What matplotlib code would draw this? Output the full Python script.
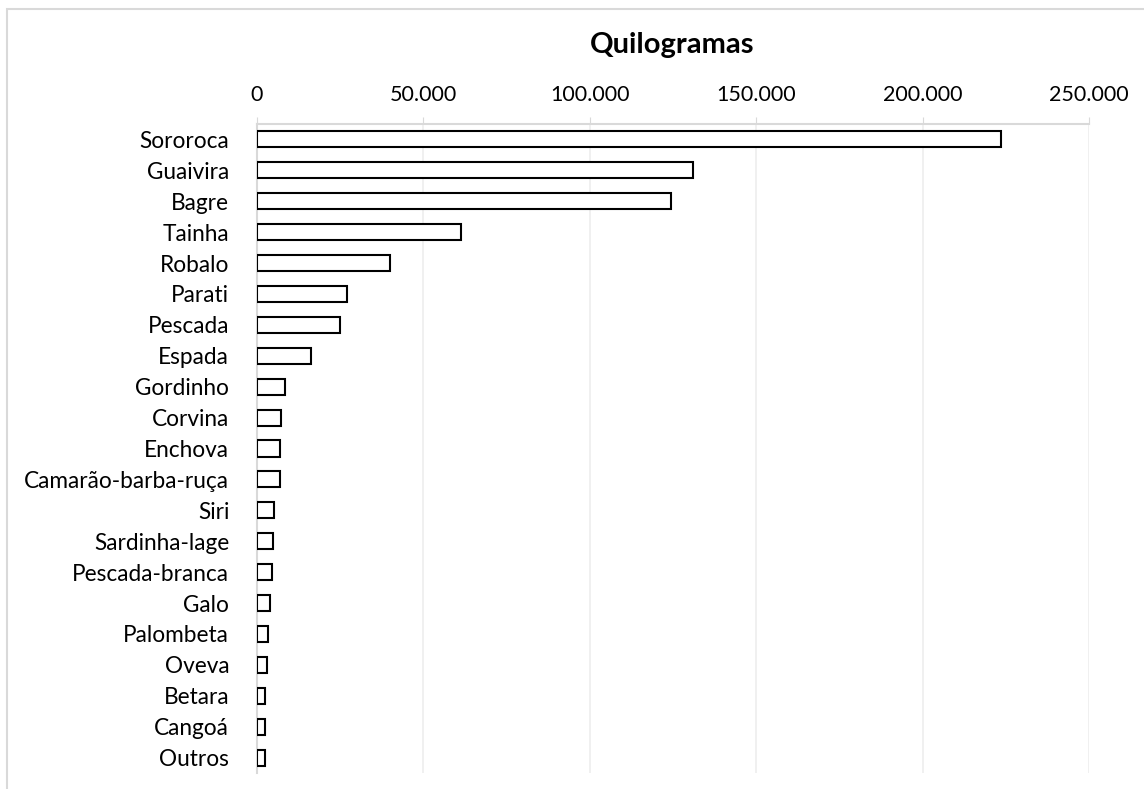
import matplotlib
matplotlib.use("Agg")
import matplotlib.pyplot as plt
from matplotlib.patches import Rectangle
from matplotlib.ticker import FuncFormatter

species = ["Sororoca", "Guaivira", "Bagre", "Tainha", "Robalo", "Parati",
           "Pescada", "Espada", "Gordinho", "Corvina", "Enchova",
           "Camarão-barba-ruça", "Siri", "Sardinha-lage", "Pescada-branca",
           "Galo", "Palombeta", "Oveva", "Betara", "Cangoá", "Outros"]
kg = [223500, 131000, 124300, 61200, 39900, 27000, 24900, 16100, 8500,
      7100, 6800, 6800, 5000, 4700, 4400, 3800, 3200, 3100, 2300, 2300, 2500]
ticks = [0, 50000, 100000, 150000, 200000, 250000]

W, H = 1144, 789
fig = plt.figure(figsize=(W / 100, H / 100), dpi=100)
plt.rcParams['font.family'] = ['Lato', 'DejaVu Sans']

# outer frame of the chart (cut off on the right and bottom)
fig.patches.append(Rectangle((7 / W, -0.1), 1.2, 1 - 9 / H + 0.1,
                             transform=fig.transFigure, fill=False,
                             edgecolor="#d9d9d9", lw=1.5))

ax = fig.add_axes([257 / W, 1 - 773 / H, (1089 - 257) / W, (773 - 124) / H])
ypos = list(range(len(species)))
ax.barh(ypos, kg, height=0.52, color="white", edgecolor="black", lw=1.5, zorder=3)

ax.set_xlim(0, 250000)
ax.set_ylim(len(species) - 0.5, -0.5)
ax.set_yticks(ypos)
ax.set_yticklabels(species, fontsize=16.3)
ax.set_xticks(ticks)
ax.xaxis.set_major_formatter(FuncFormatter(lambda v, p: f"{int(v):,}".replace(",", ".")))
ax.xaxis.tick_top()
ax.tick_params(axis="x", labelsize=15.5, length=5, color="#d9d9d9", pad=9, direction="out")
ax.tick_params(axis="y", length=0, pad=20)
ax.grid(axis="x", color="#eeeeee", lw=1.2, zorder=0)

for s in ["right", "bottom"]:
    ax.spines[s].set_visible(False)
ax.spines["top"].set_color("#d9d9d9")
ax.spines["top"].set_linewidth(1.5)
ax.spines["left"].set_color("#d9d9d9")
ax.spines["left"].set_linewidth(1.5)

fig.text(672 / W, 1 - 45 / H, "Quilogramas", ha="center", va="center",
         fontsize=21, fontweight="bold")

fig.savefig("out.png", dpi=100)
